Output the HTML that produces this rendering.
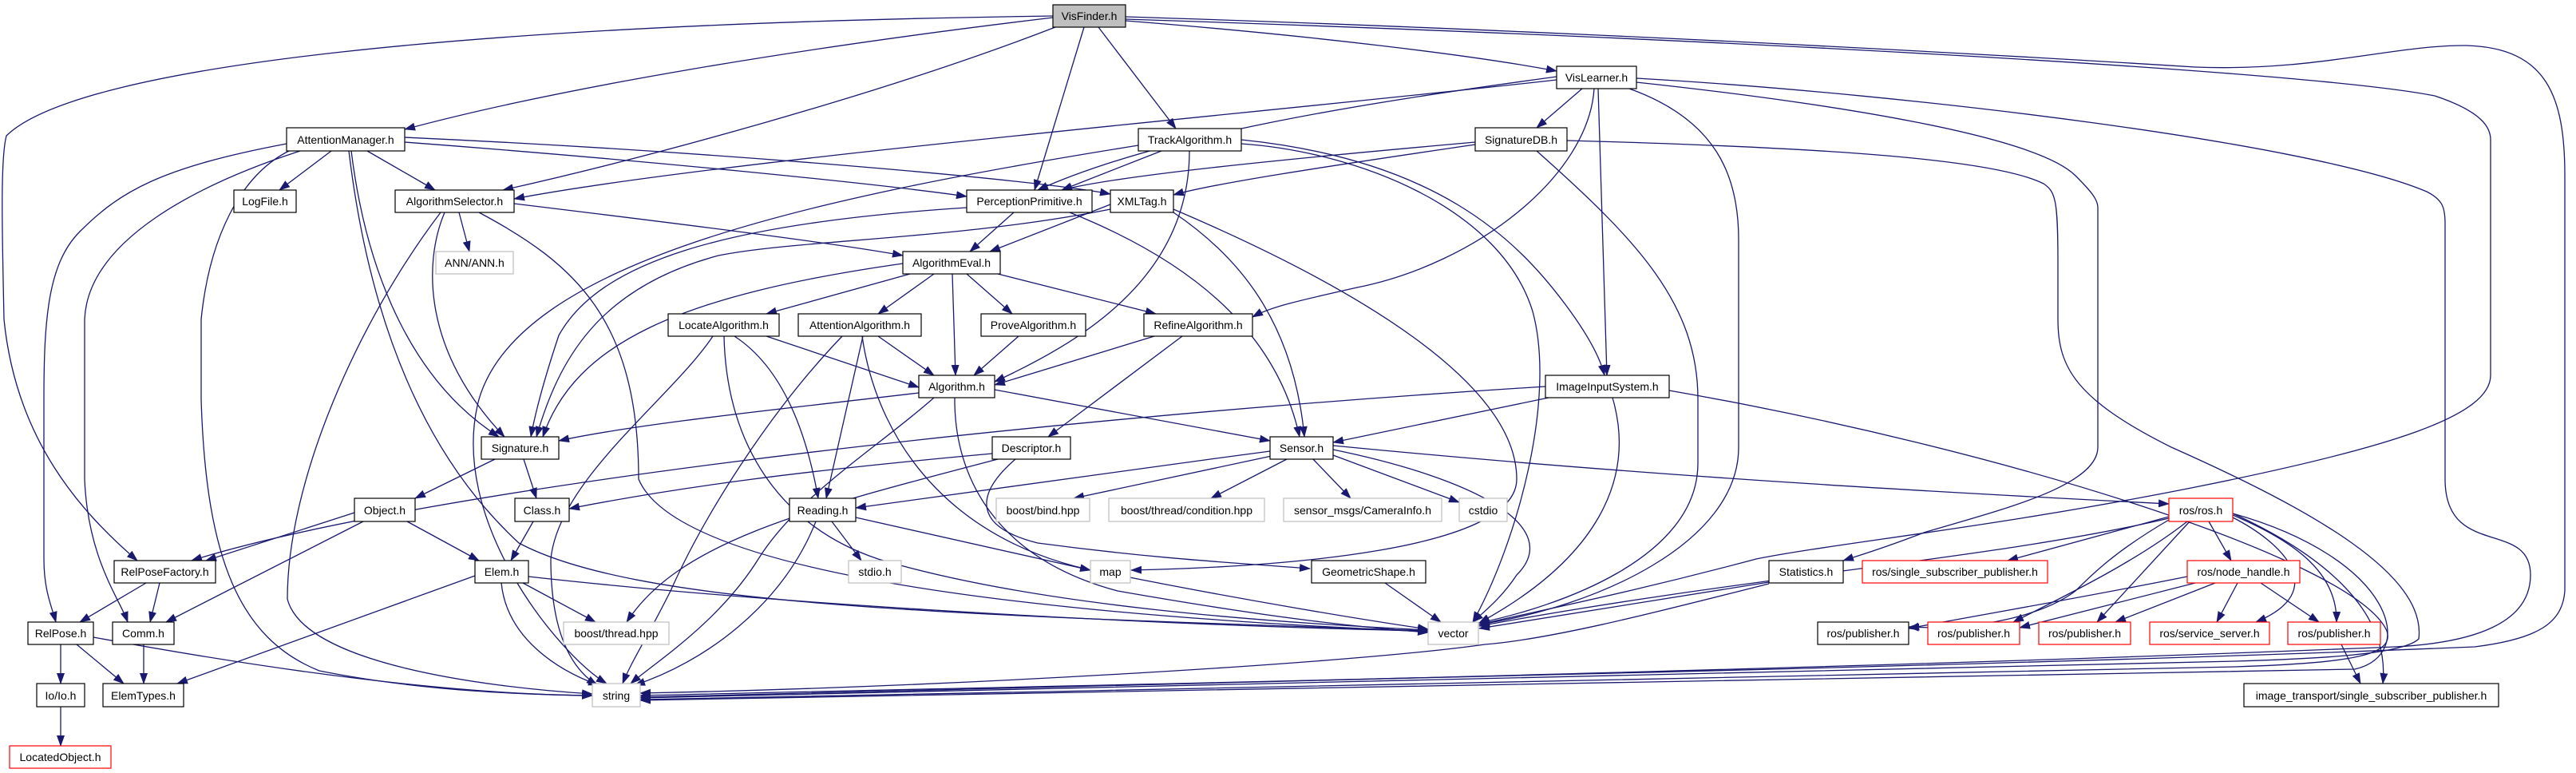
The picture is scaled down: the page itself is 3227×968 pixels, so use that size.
<!DOCTYPE html>
<html><head><meta charset="utf-8"><style>
html,body{margin:0;padding:0;background:#fff;}
svg{display:block;}
text{font-family:"Liberation Sans",sans-serif;font-size:14px;fill:#000;}
.e{fill:none;stroke:#191970;stroke-width:1.3;marker-end:url(#a);}
.n{fill:#fff;stroke:#000;stroke-width:1.2;}
.g{fill:#fff;stroke:#bfbfbf;stroke-width:1.2;}
.r{fill:#fff;stroke:#ff0000;stroke-width:1.2;}
</style></head><body>
<svg width="3227" height="968" viewBox="0 0 3227 968" xmlns="http://www.w3.org/2000/svg">
<defs><marker id="a" markerWidth="14" markerHeight="10" refX="13" refY="5" orient="auto" markerUnits="userSpaceOnUse"><path d="M0,0 L14,5 L0,10 z" fill="#191970"/></marker></defs>
<g>
<path class="e" d="M1319,22 C1000,60 700,110 507,162"/>
<path class="e" d="M1322,34 C1100,120 800,200 630,238"/>
<path class="e" d="M1358,34 L1296,238"/>
<path class="e" d="M1376,34 L1473,161"/>
<path class="e" d="M1410,26 C1650,45 1850,70 1950,89"/>
<path class="e" d="M1319,20 C600,30 100,80 8,170 C0,200 3,300 5,400 C20,550 100,640 172,702"/>
<path class="e" d="M1410,21 C1700,30 2200,50 2750,84 C2900,90 3000,56 3090,57 C3190,60 3213,120 3213,220 L3213,740 C3210,780 3180,800 3100,810 C2500,835 1500,855 802,871"/>
<path class="e" d="M1410,24 C2200,50 2900,90 3050,120 C3110,140 3120,160 3120,175 L3120,470 C3120,520 3000,560 2750,610 C2500,660 2300,680 2200,700 C2050,740 1950,760 1853,782"/>
<path class="e" d="M2050,98 C2400,118 2900,180 3040,240 C3060,250 3063,260 3063,280 L3063,600 C3063,700 3170,650 3170,720 C3170,780 3100,805 3000,810 C2400,835 1500,856 802,873"/>
<path class="e" d="M2050,103 C2300,130 2550,170 2600,220 C2620,240 2628,250 2628,260 L2628,560 C2628,610 2500,640 2410,667 C2350,690 2330,695 2309,702"/>
<path class="e" d="M1963,176 C2300,185 2500,200 2560,230 C2575,240 2578,250 2578,330 L2578,400 C2578,460 2600,500 2720,560 C2900,640 3040,720 3030,800 C3010,820 2900,825 2800,828 C2300,840 1500,858 802,874"/>
<path class="e" d="M2091,489 C2500,560 2950,700 2990,790 C3000,820 2950,830 2800,835 C2300,848 1500,862 802,876"/>
<path class="e" d="M2797,643 C3000,700 3030,820 2950,838 C2500,850 1500,862 802,877"/>
<path class="e" d="M2216,729 L1853,787"/>
<path class="e" d="M2216,731 C2100,760 1950,800 1860,807 C1700,830 1200,860 802,868"/>
<path class="e" d="M2717,647 L2515,702"/>
<path class="e" d="M2717,651 C2650,690 2620,720 2600,740 C2560,770 2480,790 2391,785"/>
<path class="e" d="M2740,653 C2680,700 2600,740 2522,779"/>
<path class="e" d="M2743,653 L2627,779"/>
<path class="e" d="M2767,653 L2795,702"/>
<path class="e" d="M2797,648 C2860,680 2920,740 2826,779"/>
<path class="e" d="M2797,645 C2880,680 2928,720 2927,779"/>
<path class="e" d="M2797,643 C2900,690 2995,760 2985,856"/>
<path class="e" d="M2717,649 C2500,700 2200,720 1853,784"/>
<path class="e" d="M2740,722 C2600,750 2480,770 2391,787"/>
<path class="e" d="M2750,730 L2530,786"/>
<path class="e" d="M2775,730 L2650,779"/>
<path class="e" d="M2803,730 L2777,779"/>
<path class="e" d="M2832,730 L2905,779"/>
<path class="e" d="M2933,807 L2957,856"/>
<path class="e" d="M1670,558 C2100,600 2500,620 2717,631"/>
<path class="e" d="M1591,565 C1400,590 1200,620 1072,636"/>
<path class="e" d="M1593,571 L1345,624"/>
<path class="e" d="M1612,575 L1517,624"/>
<path class="e" d="M1645,575 L1692,624"/>
<path class="e" d="M1670,570 L1828,629"/>
<path class="e" d="M1670,563 C1850,600 1960,660 1900,720 C1880,750 1860,765 1845,779"/>
<path class="e" d="M1272,575 C1220,620 1220,660 1300,680 C1450,700 1550,705 1641,712"/>
<path class="e" d="M1246,488 L1591,552"/>
<path class="e" d="M1940,498 L1670,554"/>
<path class="e" d="M1340,266 C1500,330 1600,420 1628,547"/>
<path class="e" d="M1470,266 C1550,320 1620,400 1634,547"/>
<path class="e" d="M2020,498 C2050,600 2000,700 1853,780"/>
<path class="e" d="M2041,111 C2150,150 2178,220 2178,300 L2178,560 C2178,680 2000,760 1853,782"/>
<path class="e" d="M1925,189 C2050,300 2127,380 2127,500 L2127,580 C2127,700 1950,760 1853,780"/>
<path class="e" d="M1555,180 C1700,190 1880,260 1920,390 C1950,500 1900,680 1845,779"/>
<path class="e" d="M1470,262 C1700,360 1900,480 1900,600 C1900,690 1600,710 1417,714"/>
<path class="e" d="M1455,189 L1330,238"/>
<path class="e" d="M1555,175 C1800,200 1900,300 1960,380 C1990,420 2005,450 2010,470"/>
<path class="e" d="M1426,182 C1000,250 650,330 600,500 C560,650 700,820 760,856"/>
<path class="e" d="M1490,189 C1490,350 1350,430 1246,478"/>
<path class="e" d="M1950,100 C1600,140 900,200 644,249"/>
<path class="e" d="M1950,96 C1700,130 1450,170 1300,238"/>
<path class="e" d="M1982,111 L1925,160"/>
<path class="e" d="M2002,111 L2013,470"/>
<path class="e" d="M1997,111 C1990,220 1850,330 1700,360 C1620,378 1590,385 1569,397"/>
<path class="e" d="M1848,178 C1600,200 1400,220 1330,238"/>
<path class="e" d="M1848,181 C1650,210 1520,230 1470,244"/>
<path class="e" d="M507,178 C800,200 1100,230 1211,246"/>
<path class="e" d="M507,172 C900,190 1300,225 1391,243"/>
<path class="e" d="M415,189 L350,238"/>
<path class="e" d="M460,189 L545,238"/>
<path class="e" d="M359,180 C200,210 150,240 100,290 C60,330 55,400 55,500 L55,700 C55,740 65,760 70,779"/>
<path class="e" d="M376,189 C250,230 110,300 106,400 L106,600 C110,700 150,750 160,779"/>
<path class="e" d="M362,189 C300,220 262,300 252,400 L252,500 C258,700 300,800 400,840 C550,870 700,870 742,871"/>
<path class="e" d="M440,189 C460,350 520,480 625,547"/>
<path class="e" d="M437,189 C460,380 520,560 650,680 C800,760 1200,770 1789,790"/>
<path class="e" d="M575,266 L588,315"/>
<path class="e" d="M644,255 C850,280 1050,305 1131,320"/>
<path class="e" d="M557,266 C530,330 530,440 632,547"/>
<path class="e" d="M552,266 C450,400 360,600 360,750 C380,830 600,860 742,869"/>
<path class="e" d="M600,266 C720,330 800,400 800,600 C850,720 1300,770 1789,791"/>
<path class="e" d="M1270,266 L1215,315"/>
<path class="e" d="M1211,260 C900,280 750,330 700,420 C680,480 670,520 665,547"/>
<path class="e" d="M1391,256 L1240,315"/>
<path class="e" d="M1391,262 C1200,300 1000,300 900,320 C750,360 700,450 672,547"/>
<path class="e" d="M1140,343 L960,393"/>
<path class="e" d="M1170,343 L1100,393"/>
<path class="e" d="M1193,343 L1197,470"/>
<path class="e" d="M1211,343 L1268,393"/>
<path class="e" d="M1250,343 L1448,393"/>
<path class="e" d="M1131,330 C850,370 720,430 680,547"/>
<path class="e" d="M960,421 L1151,485"/>
<path class="e" d="M920,421 C980,460 1010,540 1025,624"/>
<path class="e" d="M893,421 C840,500 700,600 690,700 C690,800 720,840 748,858"/>
<path class="e" d="M907,421 C910,560 980,660 1100,700 C1300,760 1600,780 1789,789"/>
<path class="e" d="M1100,421 L1170,470"/>
<path class="e" d="M1081,421 L1035,624"/>
<path class="e" d="M1055,421 C960,520 880,650 840,740 C810,800 790,830 780,856"/>
<path class="e" d="M1080,421 C1100,560 1200,690 1400,720 C1550,750 1700,775 1789,788"/>
<path class="e" d="M1276,421 L1220,470"/>
<path class="e" d="M1446,421 L1246,482"/>
<path class="e" d="M1481,421 L1313,547"/>
<path class="e" d="M1151,492 C1000,510 800,530 700,552"/>
<path class="e" d="M1170,498 C1100,560 1000,620 950,700 C900,780 820,830 790,856"/>
<path class="e" d="M1196,498 C1195,600 1250,700 1400,740 C1600,775 1700,785 1789,792"/>
<path class="e" d="M1042,653 L1079,702"/>
<path class="e" d="M1072,648 L1366,714"/>
<path class="e" d="M1022,653 C980,760 880,830 795,858"/>
<path class="e" d="M1243,568 C1000,590 850,610 713,637"/>
<path class="e" d="M1250,575 C1000,640 850,680 785,779"/>
<path class="e" d="M1735,730 L1805,779"/>
<path class="e" d="M620,575 L520,624"/>
<path class="e" d="M656,575 L672,624"/>
<path class="e" d="M444,642 L258,702"/>
<path class="e" d="M510,653 L600,702"/>
<path class="e" d="M455,653 L208,779"/>
<path class="e" d="M668,653 L640,702"/>
<path class="e" d="M595,721 L222,856"/>
<path class="e" d="M655,730 L746,779"/>
<path class="e" d="M628,730 C635,800 700,840 750,858"/>
<path class="e" d="M662,722 C1000,760 1500,785 1789,790"/>
<path class="e" d="M1936,484 C1200,530 500,620 240,702"/>
<path class="e" d="M183,730 L100,779"/>
<path class="e" d="M200,730 L188,779"/>
<path class="e" d="M76,807 L76,856"/>
<path class="e" d="M96,807 L155,856"/>
<path class="e" d="M117,798 C400,850 600,870 742,871"/>
<path class="e" d="M180,807 L180,856"/>
<path class="e" d="M76,885 L76,934"/>
</g>
<g>
<rect x="1319" y="6" width="91" height="28" fill="#bfbfbf" stroke="#000" stroke-width="1.2"/><text x="1364.5" y="25" text-anchor="middle">VisFinder.h</text>
<rect class="n" x="359" y="160" width="148" height="29"/><text x="433" y="180" text-anchor="middle">AttentionManager.h</text>
<rect class="n" x="293" y="238" width="78" height="28"/><text x="332" y="257" text-anchor="middle">LogFile.h</text>
<rect class="n" x="495" y="238" width="149" height="28"/><text x="569.5" y="257" text-anchor="middle">AlgorithmSelector.h</text>
<rect class="g" x="546" y="315" width="97" height="28"/><text x="594.5" y="334" text-anchor="middle">ANN/ANN.h</text>
<rect class="n" x="1426" y="161" width="129" height="28"/><text x="1490.5" y="180" text-anchor="middle">TrackAlgorithm.h</text>
<rect class="n" x="1211" y="238" width="157" height="28"/><text x="1289.5" y="257" text-anchor="middle">PerceptionPrimitive.h</text>
<rect class="n" x="1391" y="238" width="79" height="28"/><text x="1430.5" y="257" text-anchor="middle">XMLTag.h</text>
<rect class="n" x="1131" y="315" width="122" height="28"/><text x="1192" y="334" text-anchor="middle">AlgorithmEval.h</text>
<rect class="n" x="837" y="393" width="139" height="28"/><text x="906.5" y="412" text-anchor="middle">LocateAlgorithm.h</text>
<rect class="n" x="1000" y="393" width="154" height="28"/><text x="1077" y="412" text-anchor="middle">AttentionAlgorithm.h</text>
<rect class="n" x="1229" y="393" width="131" height="28"/><text x="1294.5" y="412" text-anchor="middle">ProveAlgorithm.h</text>
<rect class="n" x="1433" y="393" width="136" height="28"/><text x="1501" y="412" text-anchor="middle">RefineAlgorithm.h</text>
<rect class="n" x="1151" y="470" width="95" height="28"/><text x="1198.5" y="489" text-anchor="middle">Algorithm.h</text>
<rect class="n" x="1950" y="83" width="100" height="28"/><text x="2000" y="102" text-anchor="middle">VisLearner.h</text>
<rect class="n" x="1848" y="160" width="115" height="29"/><text x="1905.5" y="180" text-anchor="middle">SignatureDB.h</text>
<rect class="n" x="1936" y="470" width="155" height="28"/><text x="2013.5" y="489" text-anchor="middle">ImageInputSystem.h</text>
<rect class="n" x="603" y="547" width="97" height="28"/><text x="651.5" y="566" text-anchor="middle">Signature.h</text>
<rect class="n" x="444" y="624" width="76" height="29"/><text x="482" y="644" text-anchor="middle">Object.h</text>
<rect class="n" x="645" y="624" width="68" height="29"/><text x="679" y="644" text-anchor="middle">Class.h</text>
<rect class="n" x="143" y="702" width="127" height="28"/><text x="206.5" y="721" text-anchor="middle">RelPoseFactory.h</text>
<rect class="n" x="595" y="702" width="67" height="28"/><text x="628.5" y="721" text-anchor="middle">Elem.h</text>
<rect class="n" x="35" y="779" width="82" height="28"/><text x="76" y="798" text-anchor="middle">RelPose.h</text>
<rect class="n" x="141" y="779" width="77" height="28"/><text x="179.5" y="798" text-anchor="middle">Comm.h</text>
<rect class="g" x="706" y="779" width="132" height="28"/><text x="772" y="798" text-anchor="middle">boost/thread.hpp</text>
<rect class="n" x="46" y="856" width="60" height="29"/><text x="76" y="876" text-anchor="middle">Io/Io.h</text>
<rect class="n" x="129" y="856" width="101" height="29"/><text x="179.5" y="876" text-anchor="middle">ElemTypes.h</text>
<rect class="g" x="742" y="856" width="60" height="29"/><text x="772" y="876" text-anchor="middle">string</text>
<rect class="r" x="12" y="934" width="127" height="28"/><text x="75.5" y="953" text-anchor="middle">LocatedObject.h</text>
<rect class="n" x="1243" y="547" width="98" height="28"/><text x="1292" y="566" text-anchor="middle">Descriptor.h</text>
<rect class="n" x="1591" y="547" width="79" height="28"/><text x="1630.5" y="566" text-anchor="middle">Sensor.h</text>
<rect class="n" x="989" y="624" width="83" height="29"/><text x="1030.5" y="644" text-anchor="middle">Reading.h</text>
<rect class="g" x="1248" y="624" width="117" height="29"/><text x="1306.5" y="644" text-anchor="middle">boost/bind.hpp</text>
<rect class="g" x="1389" y="624" width="195" height="29"/><text x="1486.5" y="644" text-anchor="middle">boost/thread/condition.hpp</text>
<rect class="g" x="1608" y="624" width="198" height="29"/><text x="1707" y="644" text-anchor="middle">sensor_msgs/CameraInfo.h</text>
<rect class="g" x="1828" y="624" width="60" height="29"/><text x="1858" y="644" text-anchor="middle">cstdio</text>
<rect class="g" x="1063" y="702" width="66" height="28"/><text x="1096" y="721" text-anchor="middle">stdio.h</text>
<rect class="g" x="1366" y="702" width="50" height="28"/><text x="1391" y="721" text-anchor="middle">map</text>
<rect class="n" x="1643" y="702" width="143" height="28"/><text x="1714.5" y="721" text-anchor="middle">GeometricShape.h</text>
<rect class="g" x="1789" y="779" width="63" height="28"/><text x="1820.5" y="798" text-anchor="middle">vector</text>
<rect class="n" x="2216" y="702" width="93" height="28"/><text x="2262.5" y="721" text-anchor="middle">Statistics.h</text>
<rect class="r" x="2333" y="702" width="232" height="28"/><text x="2449" y="721" text-anchor="middle">ros/single_subscriber_publisher.h</text>
<rect class="n" x="2277" y="779" width="114" height="28"/><text x="2334" y="798" text-anchor="middle">ros/publisher.h</text>
<rect class="r" x="2717" y="624" width="80" height="29"/><text x="2757" y="644" text-anchor="middle">ros/ros.h</text>
<rect class="r" x="2740" y="702" width="141" height="28"/><text x="2810.5" y="721" text-anchor="middle">ros/node_handle.h</text>
<rect class="r" x="2415" y="779" width="115" height="28"/><text x="2472.5" y="798" text-anchor="middle">ros/publisher.h</text>
<rect class="r" x="2554" y="779" width="115" height="28"/><text x="2611.5" y="798" text-anchor="middle">ros/publisher.h</text>
<rect class="r" x="2693" y="779" width="150" height="28"/><text x="2768" y="798" text-anchor="middle">ros/service_server.h</text>
<rect class="r" x="2866" y="779" width="116" height="28"/><text x="2924" y="798" text-anchor="middle">ros/publisher.h</text>
<rect class="n" x="2811" y="856" width="319" height="29"/><text x="2970.5" y="876" text-anchor="middle">image_transport/single_subscriber_publisher.h</text>
</g>
</svg>
</body></html>
